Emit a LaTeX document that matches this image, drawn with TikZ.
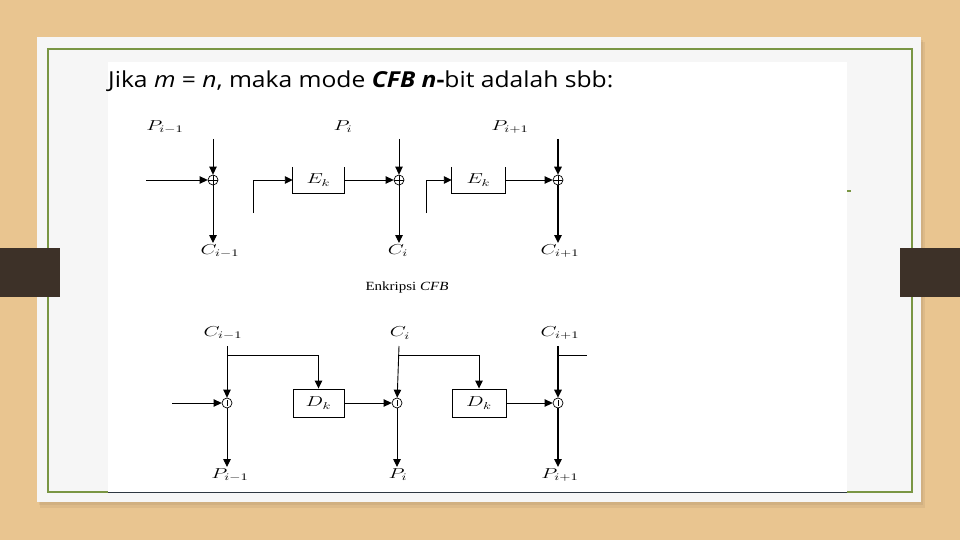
\documentclass[tikz,border=0pt]{standalone}
\usepackage{fontspec}
\usepackage{graphicx}
\setmainfont{Carlito}
\newfontfamily\tms{Liberation Serif}
\newfontfamily\ttl{Open Sans}
\usetikzlibrary{arrows.meta}
\definecolor{wood}{RGB}{233,197,144}
\definecolor{card}{RGB}{246,246,246}
\definecolor{frame}{RGB}{122,150,68}
\definecolor{tabc}{RGB}{61,49,40}
\definecolor{edgec}{RGB}{45,55,65}
\newcommand{\wl}[1]{\scalebox{1.45}[1]{#1}}
\begin{document}
\begin{tikzpicture}[x=1pt,y=-1pt,
  wire/.style={line width=0.9pt},
  boldwire/.style={line width=1.5pt},
  arr/.style={-{Triangle[length=8pt,width=7.5pt]}},
  xorp/.style={circle, draw, line width=0.7pt, minimum size=10pt, inner sep=0pt,
    path picture={\draw[line width=0.6pt] (path picture bounding box.north) -- (path picture bounding box.south)
      (path picture bounding box.west) -- (path picture bounding box.east);}},
  xorm/.style={circle, draw, line width=0.7pt, minimum size=10pt, inner sep=0pt,
    path picture={\draw[line width=0.6pt] ([yshift=-2pt]path picture bounding box.north) -- ([yshift=2pt]path picture bounding box.south);}},
  lab/.style={inner sep=1pt, font=\Large},
  ebox/.style={minimum width=51pt, minimum height=26pt, inner sep=0pt, font=\Large},
  dbox/.style={draw, line width=0.9pt, minimum height=28pt, inner sep=0pt, font=\Large}
]
\useasboundingbox (0,0) rectangle (960,540);
% background slide
\fill[wood] (0,0) rectangle (960,540);
\fill[black,opacity=0.05] (40,42) rectangle (925,508);
\fill[black,opacity=0.05] (39,40) rectangle (923,505);
\fill[card] (37,37) rectangle (921,502);
\draw[frame, line width=2.4pt] (48,49) rectangle (912,492);
\fill[white] (108,62) rectangle (847,492);
\draw[edgec, line width=1pt] (108,492) -- (847,492);
\draw[frame, line width=1.2pt] (847,191) -- (851,191);
\fill[tabc] (0,248) rectangle (60,297);
\fill[tabc] (900,248) rectangle (960,297);

% title
\node[anchor=base west, inner sep=0pt, font=\ttl\fontsize{22}{26}\selectfont] (title) at (108,88)
  {\scalebox{1.12}[1]{Jika \textit{m} = \textit{n}, maka mode \textbf{\textit{CFB n}-}bit adalah sbb:}};

% ===== encryption =====
\node[lab] (p1) at (165,127) {\wl{$P_{i-1}$}};
\node[lab] (p2) at (343,127) {\wl{$P_i$}};
\node[lab] (p3) at (510,127) {\wl{$P_{i+1}$}};
\coordinate (t1) at (213,139);
\coordinate (t2) at (399,139);
\coordinate (t3) at (558,139);
\node[xorp] (x1) at (213,180) {};
\node[xorp] (x2) at (399,180) {};
\node[xorp] (x3) at (558,180) {};
\node[lab, anchor=north] (c1) at (220,243) {\wl{$C_{i-1}$}};
\node[lab, anchor=north] (c2) at (398,243) {\wl{$C_i$}};
\node[lab, anchor=north] (c3) at (560,243) {\wl{$C_{i+1}$}};
\node[ebox] (e1) at (318.5,180) {\wl{$E_k$}};
\node[ebox, minimum width=53pt] (e2) at (478.5,180) {\wl{$E_k$}};
\draw[wire] (e1.north west) -- (e1.south west) -- (e1.south east) -- (e1.north east);
\draw[wire] (e2.north west) -- (e2.south west) -- (e2.south east) -- (e2.north east);
\coordinate (in1) at (146,180);
\coordinate (f1) at (253,213);
\coordinate (f2) at (426,213);

\draw[wire, arr] (t1) -- (x1);
\draw[wire, arr] (t2) -- (x2);
\draw[boldwire, arr] (t3) -- (x3);
\draw[wire, arr] (in1) -- (x1);
\draw[wire, arr] (f1) |- (e1.west);
\draw[wire, arr] (f2) |- (e2.west);
\draw[wire, arr] (e1.east) -- (x2);
\draw[wire, arr] (e2.east) -- (x3);
\draw[wire, arr] (x1) -- (x1 |- c1.north);
\draw[wire, arr] (x2) -- (x2 |- c2.north);
\draw[boldwire, arr] (x3) -- (x3 |- c3.north);

\node[inner sep=0pt, font=\tms\fontsize{12.5}{13}\selectfont] (cap) at (407,287) {\scalebox{1.2}[1]{Enkripsi \textit{CFB}}};

% ===== decryption =====
\node[lab] (ci1) at (223,333) {\wl{$C_{i-1}$}};
\node[lab] (ci2) at (400,333) {\wl{$C_i$}};
\node[lab] (ci3) at (560,333) {\wl{$C_{i+1}$}};
\coordinate (u1) at (227,346);
\coordinate (u2) at (399,346);
\coordinate (u3) at (558,346);
\coordinate (b1) at (227,355);
\coordinate (b2) at (399,355);
\coordinate (b3) at (558,355);
\coordinate (r3) at (587,355);
\node[xorm] (y1) at (227,403) {};
\node[xorm] (y2) at (397,403) {};
\node[xorm] (y3) at (558,403) {};
\node[dbox, minimum width=51pt] (d1) at (318.5,403) {\wl{$D_k$}};
\node[dbox, minimum width=54pt] (d2) at (479,403) {\wl{$D_k$}};
\node[lab, anchor=north] (o1) at (230,467) {\wl{$P_{i-1}$}};
\node[lab, anchor=north] (o2) at (398,467) {\wl{$P_i$}};
\node[lab, anchor=north] (o3) at (560,467) {\wl{$P_{i+1}$}};
\coordinate (in2) at (172,403);

\draw[wire, arr] (u1) -- (y1);
\draw[wire, arr] (u2) -- (y2);
\draw[boldwire, arr] (u3) -- (y3);
\draw[wire, arr] (b1) -| (d1.north);
\draw[wire, arr] (b2) -| (d2.north);
\draw[wire] (b3) -- (r3);
\draw[wire, arr] (in2) -- (y1);
\draw[wire, arr] (d1) -- (y2);
\draw[wire, arr] (d2) -- (y3);
\draw[wire, arr] (y1) -- (y1 |- o1.north);
\draw[wire, arr] (y2) -- (y2 |- o2.north);
\draw[boldwire, arr] (y3) -- (y3 |- o3.north);
\end{tikzpicture}
\end{document}
